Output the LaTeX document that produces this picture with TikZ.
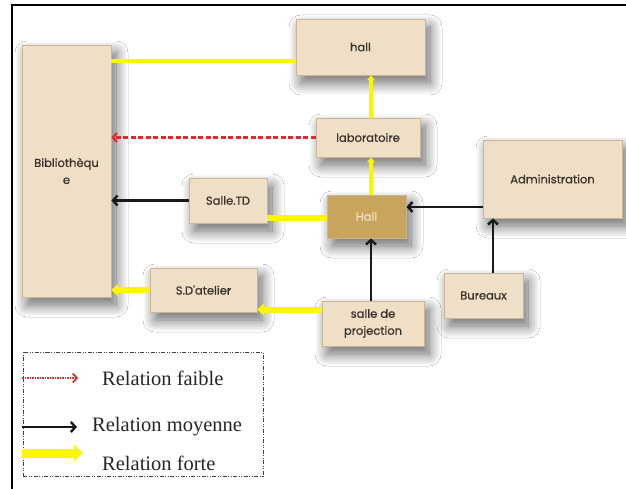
\documentclass[tikz,border=0pt]{standalone}
\usepackage{fontspec}
\setmainfont{Liberation Serif}
\newfontfamily\boxfont[FakeBold=0.8]{Poppins}
\usetikzlibrary{arrows.meta,shadows.blur,calc}
\definecolor{boxfill}{HTML}{EEDFC6}
\definecolor{boxedge}{HTML}{C9B696}
\definecolor{darkfill}{HTML}{C9A45C}
\definecolor{darktext}{HTML}{F1E3C2}
\definecolor{boxtext}{HTML}{3A332D}
\definecolor{strongy}{HTML}{FAF500}
\definecolor{weakred}{HTML}{E8262E}
\tikzset{
  room/.style={draw=boxedge, line width=0.8pt, fill=boxfill, text=boxtext,
    font=\boxfont\fontsize{11.5}{17}\selectfont, align=center, inner sep=0pt,
    blur shadow={shadow xshift=5pt, shadow yshift=-8pt, shadow blur steps=16, shadow blur radius=12pt, shadow opacity=60}},
  darkroom/.style={room, fill=darkfill, text=darktext},
  strongline/.style={draw=strongy, line width=3.5pt},
  strongarrow/.style={draw=strongy, line width=6pt, -{Triangle[width=13pt,length=7pt]}},
  strongthin/.style={draw=strongy, line width=4pt, -{Triangle[width=8pt,length=5pt]}},
  midarrow/.style={draw=black!90, line width=2.4pt, -{Straight Barb[length=4.5pt,width=10pt]}},
  weakarrow/.style={draw=weakred, line width=2.2pt, dash pattern=on 5pt off 2.5pt, -{Straight Barb[length=4pt,width=9pt]}},
  legtext/.style={font=\fontsize{20.5}{22}\selectfont, text=black!85, inner sep=0pt, anchor=west}
}
\begin{document}
\begin{tikzpicture}[x=1pt,y=-1pt]
\useasboundingbox (0,0) rectangle (626,489);
\fill[white] (0,0) rectangle (626,489);
% frame
\draw[line width=2.2pt] (12,489) -- (12,5) -- (626,5);
% rooms
\node[room, minimum width=89pt, minimum height=252pt] (bib) at (66.5,171) {Biblioth\`equ\\e};
\node[room, minimum width=129pt, minimum height=56pt] (hallT) at (360.5,47) {hall};
\node[room, minimum width=104pt, minimum height=39pt] (lab) at (368,137.5) {laboratoire};
\node[room, minimum width=139pt, minimum height=78pt] (admin) at (552.5,179) {Administration};
\node[darkroom, minimum width=79pt, minimum height=43pt] (hallD) at (366.5,216.5) {Hall};
\node[room, minimum width=78pt, minimum height=45pt] (td) at (228,200.5) {Salle.TD};
\node[room, minimum width=107pt, minimum height=44pt] (atel) at (203.5,290) {S.D'atelier};
\node[room, minimum width=102pt, minimum height=45pt] (proj) at (373,323.5) {salle de\\projection};
\node[room, minimum width=79pt, minimum height=45pt] (bur) at (483.5,295.5) {Bureaux};
% helper coordinates
\coordinate (h1) at ([yshift=-14pt]hallT.west);
\coordinate (a1) at ([yshift=-28pt]admin.west);
\coordinate (b1) at ([xshift=9.5pt]bur.north);
\coordinate (p1) at ([yshift=14pt]proj.west);
\coordinate (v1) at ([xshift=4.5pt]hallD.north);
\coordinate (v2) at ([xshift=3pt]lab.north);
\coordinate (t1) at ([yshift=-1.5pt]hallD.west);
% connectors
\draw[strongline] (h1) -- (bib.east |- h1);
\draw[weakarrow] (lab.west) -- (bib.east |- lab.west);
\draw[midarrow] (td.west) -- (bib.east |- td.west);
\draw[strongline, line width=5.5pt] (t1) -- (td.east |- t1);
\draw[strongthin] (v1) -- (v1 |- lab.south);
\draw[strongthin] (v2) -- (v2 |- hallT.south);
\draw[midarrow] (a1) -- (hallD.east |- a1);
\draw[midarrow] (b1) -- (b1 |- admin.south);
\draw[midarrow] ([xshift=-2pt]proj.north) -- ([xshift=-2pt]proj.north |- hallD.south);
\draw[strongarrow] (p1) -- (atel.east |- p1);
\draw[strongarrow] (atel.west) -- (bib.east |- atel.west);
% legend
\node[draw=black!75, line width=1pt, dash pattern=on 4pt off 1.5pt on 1pt off 1.5pt on 1pt off 1.5pt,
  minimum width=240pt, minimum height=124pt, inner sep=0pt] (legend) at (143,414) {};
\node[legtext] (lt1) at (102,378) {Relation faible};
\node[legtext] (lt2) at (92,427) {Relation moyenne};
\node[legtext] (lt3) at (102,463) {Relation forte};
\coordinate (l1a) at (22,378); \coordinate (l1b) at (78,378);
\coordinate (l2a) at (22,427); \coordinate (l2b) at (77,427);
\coordinate (l3a) at (22,453); \coordinate (l3b) at (83,453);
\draw[draw=weakred, line width=1.8pt, dash pattern=on 1.5pt off 1pt, -{Straight Barb[length=4pt,width=9pt]}] (l1a) -- (l1b);
\draw[midarrow] (l2a) -- (l2b);
\draw[draw=strongy, line width=9pt, -{Triangle[width=16pt,length=9pt]}] (l3a) -- (l3b);
\end{tikzpicture}
\end{document}
